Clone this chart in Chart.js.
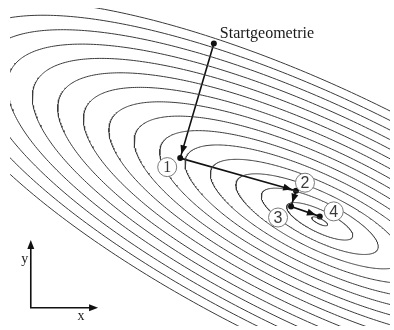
<!DOCTYPE html>
<html>
<head>
<meta charset="utf-8">
<script src="https://cdn.jsdelivr.net/npm/chart.js@4/dist/chart.umd.min.js"></script>
<style>
  html, body { margin: 0; padding: 0; background: #fff; }
  #wrap { width: 394px; height: 330px; }
</style>
</head>
<body>
<div id="wrap"><canvas id="c" width="394" height="330"></canvas></div>
<script>
// Quadratic objective f(x,y) = a·dx² + 2b·dx·dy + c·dy², with dx = x − x0, dy = y − y0
const centerX = 32.3;
const centerY = 10.6;
const coefA = 1.0;
const coefB = 1.34;
const coefC = 3.1;

// Function values of the drawn iso-lines (innermost first)
const contourLevels = [0.27, 4.7, 14.7, 30.2, 51.4, 78.0, 110, 148, 191, 240, 295, 355, 420, 491, 568, 650];

// Iterates of the descent, starting geometry first
const stepNames = ['Startgeometrie', '1', '2', '3', '4'];
const stepX = [21.6, 18.2, 29.9, 29.4, 32.3];
const stepY = [28.6, 17.0, 13.7, 12.1, 11.1];

// Coordinate frame symbol (origin, arrow tips) and its axis names
const frameNames = ['x', 'y'];
const frameOrigin = [3.1, 1.85];
const frameTipX = [9.9, 1.85];
const frameTipY = [3.1, 8.7];

// Pixel offsets of the numbered markers / start caption relative to their iterate
const badgeOffsets = [[6, -5.5], [-13, 9], [9, -8], [-13, 11], [14, -5]];

// Iso-line f = level as a closed polyline, from the eigen-decomposition of the form
function isoLine(level, n) {
  const tr = coefA + coefC;
  const df = Math.sqrt((coefA - coefC) ** 2 + 4 * coefB * coefB);
  const l1 = (tr - df) / 2, l2 = (tr + df) / 2;
  let ex = coefB, ey = l1 - coefA;
  const nn = Math.hypot(ex, ey); ex /= nn; ey /= nn;
  const r1 = Math.sqrt(level / l1), r2 = Math.sqrt(level / l2);
  const pts = [];
  for (let i = 0; i <= n; i++) {
    const t = 2 * Math.PI * i / n;
    const u = r1 * Math.cos(t), v = r2 * Math.sin(t);
    pts.push({ x: centerX + u * ex - v * ey, y: centerY + u * ey + v * ex });
  }
  return pts;
}

const contourSets = contourLevels.map(L => ({
  data: isoLine(L, 480),
  showLine: true,
  borderColor: '#3a3a3a',
  borderWidth: 1,
  pointRadius: 0,
  tension: 0,
  fill: false
}));

const pathSet = {
  data: stepX.map((x, i) => ({ x, y: stepY[i] })),
  showLine: true,
  borderColor: '#111',
  borderWidth: 1.6,
  pointRadius: 3,
  pointBackgroundColor: '#111',
  pointBorderWidth: 0,
  tension: 0,
  clip: false
};

function arrowHead(ctx, x0, y0, x1, y1, back, len, half) {
  const dx = x1 - x0, dy = y1 - y0, d = Math.hypot(dx, dy);
  const ux = dx / d, uy = dy / d;
  const tx = x1 - ux * back, ty = y1 - uy * back;
  const bx = tx - ux * len, by = ty - uy * len;
  ctx.beginPath();
  ctx.moveTo(tx, ty);
  ctx.lineTo(bx - uy * half, by + ux * half);
  ctx.lineTo(bx + uy * half, by - ux * half);
  ctx.closePath();
  ctx.fill();
}

const decorations = {
  id: 'decorations',
  afterDatasetsDraw(chart) {
    const { ctx, scales: { x: sx, y: sy } } = chart;
    const px = v => sx.getPixelForValue(v), py = v => sy.getPixelForValue(v);
    ctx.save();
    ctx.fillStyle = '#111';

    // arrowheads along the descent path
    for (let i = 0; i < stepX.length - 1; i++) {
      arrowHead(ctx, px(stepX[i]), py(stepY[i]), px(stepX[i + 1]), py(stepY[i + 1]), 4, 9, 3.5);
    }

    // start caption
    ctx.font = '16px "Liberation Serif", "Times New Roman", serif';
    ctx.textAlign = 'left';
    ctx.textBaseline = 'alphabetic';
    ctx.fillStyle = '#1a1a1a';
    ctx.fillText(stepNames[0], px(stepX[0]) + badgeOffsets[0][0], py(stepY[0]) + badgeOffsets[0][1]);

    // numbered markers
    for (let i = 1; i < stepNames.length; i++) {
      const cx = px(stepX[i]) + badgeOffsets[i][0];
      const cy = py(stepY[i]) + badgeOffsets[i][1];
      ctx.beginPath();
      ctx.arc(cx, cy, 9.5, 0, 2 * Math.PI);
      ctx.fillStyle = '#fff';
      ctx.fill();
      ctx.lineWidth = 1;
      ctx.strokeStyle = '#7a7a7a';
      ctx.stroke();
      ctx.fillStyle = '#3a3a3a';
      ctx.font = (i === 1 ? '16px "Liberation Serif", serif' : '16px "Liberation Sans", Arial, sans-serif');
      ctx.textAlign = 'center';
      ctx.textBaseline = 'middle';
      ctx.fillText(stepNames[i], cx, cy + 1);
    }

    // coordinate frame symbol
    const ox = px(frameOrigin[0]), oy = py(frameOrigin[1]);
    const xx = px(frameTipX[0]), xy = py(frameTipX[1]);
    const yx = px(frameTipY[0]), yy = py(frameTipY[1]);
    ctx.strokeStyle = '#111';
    ctx.fillStyle = '#111';
    ctx.lineWidth = 1.6;
    ctx.beginPath();
    ctx.moveTo(yx, yy + 6);
    ctx.lineTo(ox, oy);
    ctx.lineTo(xx - 6, xy);
    ctx.stroke();
    arrowHead(ctx, ox, oy, xx, xy, 0, 9, 3.5);
    arrowHead(ctx, ox, oy, yx, yy, 0, 9, 3.5);
    ctx.font = '14px "Liberation Serif", serif';
    ctx.fillStyle = '#222';
    ctx.textAlign = 'center';
    ctx.textBaseline = 'middle';
    ctx.fillText(frameNames[0], xx - 17, xy + 9);
    ctx.fillText(frameNames[1], yx - 6, yy + 19);
    ctx.restore();
  }
};

new Chart(document.getElementById('c'), {
  type: 'scatter',
  data: { datasets: [...contourSets, pathSet] },
  options: {
    responsive: false,
    animation: false,
    devicePixelRatio: 1,
    layout: { padding: { left: 10, top: 8, right: 0, bottom: 0 } },
    scales: {
      x: { type: 'linear', min: 1.0, max: 39.4, display: false },
      y: { type: 'linear', min: 0, max: 32.2, display: false }
    },
    plugins: { legend: { display: false }, tooltip: { enabled: false } }
  },
  plugins: [decorations]
});
</script>
</body>
</html>
